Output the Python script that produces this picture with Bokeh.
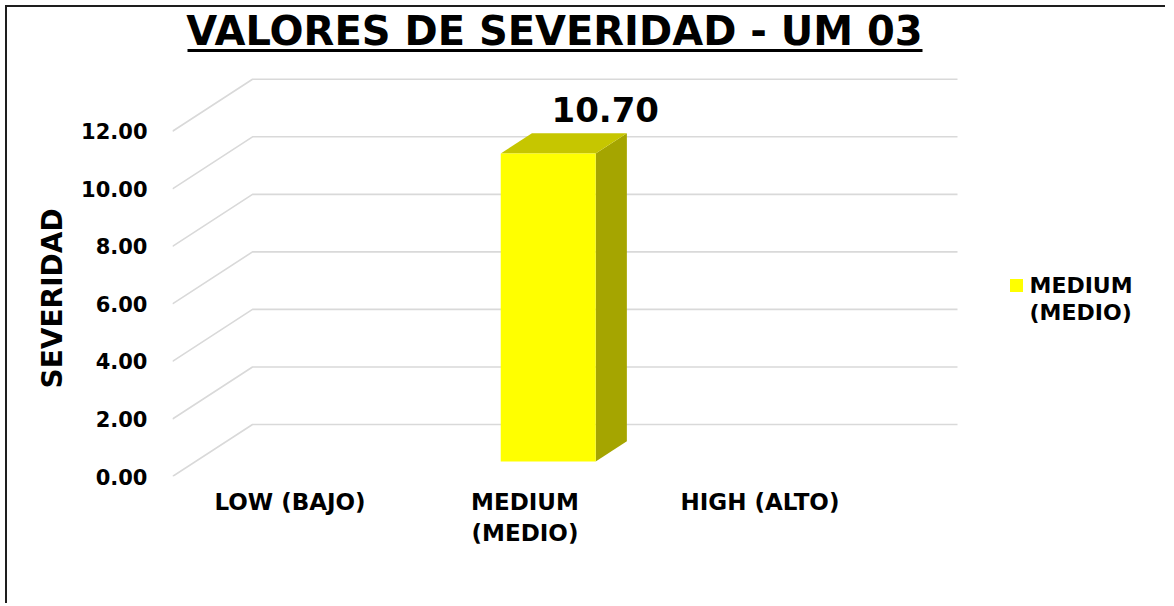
import math
from bokeh.plotting import figure
from bokeh.models import Range1d, FixedTicker, Title, CustomJSTickFormatter
from bokeh.core.properties import value
from bokeh.embed import file_html
from bokeh.resources import INLINE

# ---------------- data ----------------
categories = ["LOW (BAJO)", "MEDIUM (MEDIO)", "HIGH (ALTO)"]
category_labels = ["LOW (BAJO)", "MEDIUM\n(MEDIO)", "HIGH (ALTO)"]
severity = [0.0, 10.70, 0.0]
y_ticks = [0, 2, 4, 6, 8, 10, 12]
title_text = "VALORES DE SEVERIDAD - UM 03"
y_axis_title = "SEVERIDAD"
legend_lines = ["MEDIUM", "(MEDIO)"]

# ---------------- layout ----------------
FONT = "DejaVu Sans"
OX, OY = 7, 7            # page position of canvas origin (margin 5 + 2px border)
W, H = 1160, 598
FRAME_LEFT = 172 - OX
FRAME_H = 476 - OY
FRAME_W = W - FRAME_LEFT
PXX = 235.0      # px per category
PXY = 28.77      # px per unit of severity
DX = 80 / PXX    # 3D depth (x) in data units
DY = 52 / PXY    # 3D depth (y) in data units
BAR_W = 0.404
D0, D1 = 0.29, 0.68  # bar depth position (fractions of depth)

def rx(px):  # page px -> data x
    return (px - OX - FRAME_LEFT) / PXX

def ry(py):  # page px -> data y
    return (FRAME_H + OY - py) / PXY

p = figure(width=W, height=H, output_backend="svg", toolbar_location=None,
           x_range=Range1d(0, FRAME_W / PXX), y_range=Range1d(0, FRAME_H / PXY),
           min_border_left=FRAME_LEFT, min_border_right=0, min_border_top=0,
           min_border_bottom=H - FRAME_H,
           margin=(5, 0, 0, 5),
           styles={"border-left": "2px solid #1e1e1e", "border-top": "2px solid #1e1e1e"})
p.outline_line_color = None
p.grid.visible = False
p.background_fill_color = "white"
p.border_fill_color = "white"

# axes
ya = p.yaxis[0]
ya.ticker = FixedTicker(ticks=y_ticks)
ya.formatter = CustomJSTickFormatter(code="return tick.toFixed(2);")
ya.axis_line_color = None
ya.major_tick_line_color = None
ya.minor_tick_line_color = None
ya.major_label_standoff = 19
ya.major_label_text_font = FONT
ya.major_label_text_font_style = "bold"
ya.major_label_text_font_size = "21px"
ya.major_label_text_color = "black"

xa = p.xaxis[0]
xa.ticker = FixedTicker(ticks=[i + 0.5 for i in range(len(categories))])
xa.major_label_overrides = {i + 0.5: lab for i, lab in enumerate(category_labels)}
xa.axis_line_color = None
xa.major_tick_line_color = None
xa.minor_tick_line_color = None
xa.major_label_standoff = 6
xa.major_label_text_font = FONT
xa.major_label_text_font_style = "bold"
xa.major_label_text_font_size = "23px"
xa.major_label_text_color = "black"

# y axis title (left side title, shifted along the axis)
p.add_layout(Title(text=y_axis_title, align="left", offset=88, text_font=FONT,
                   text_font_style="bold", text_font_size="28px", text_color="black",
                   standoff=20), "left")

# 3D gridlines (floor diagonal + back wall)
n = len(categories)
gx = [[0, DX, n + DX] for v in y_ticks]
gy = [[v, v + DY, v + DY] for v in y_ticks]
p.multi_line(gx, gy, line_color="#d9d9d9", line_width=1.6)

# 3D bars
bx, by = (D1 - D0) * DX, (D1 - D0) * DY
front_x, front_y, top_x, top_y, side_x, side_y = [], [], [], [], [], []
for i, v in enumerate(severity):
    if v <= 0:
        continue
    x0 = i + (1 - BAR_W) / 2 + D0 * DX
    x1 = x0 + BAR_W
    y0 = D0 * DY
    y1 = y0 + v
    front_x.append([x0, x1, x1, x0]); front_y.append([y0, y0, y1, y1])
    top_x.append([x0, x1, x1 + bx, x0 + bx]); top_y.append([y1, y1, y1 + by, y1 + by])
    side_x.append([x1, x1 + bx, x1 + bx, x1]); side_y.append([y0, y0 + by, y1 + by, y1])
    p.text(x=[(x0 + x1) / 2 + bx + 0.11], y=[y1 + by + 0.83], text=["{:.2f}".format(v)],
           text_font=value(FONT), text_font_style="bold", text_font_size="34px",
           text_align="center", text_baseline="middle", text_color="black")
p.patches(side_x, side_y, fill_color="#a5a500", line_color=None)
p.patches(top_x, top_y, fill_color="#c6c600", line_color=None)
p.patches(front_x, front_y, fill_color="#ffff00", line_color=None)

# title with underline
p.text(x=[rx(554)], y=[ry(30)], text=[title_text], text_font=value(FONT),
       text_font_style="bold", text_font_size="40px", text_align="center",
       text_baseline="middle", text_color="black")
p.segment(x0=[rx(187)], y0=[ry(50)], x1=[rx(922)], y1=[ry(50)], line_color="black", line_width=3)

# legend
p.scatter(x=[rx(1016)], y=[ry(285)], marker="square", size=13, fill_color="#ffff00", line_color=None)
p.text(x=[rx(1029)] * len(legend_lines), y=[ry(285), ry(312)], text=legend_lines,
       text_font=value(FONT), text_font_style="bold", text_font_size="22px",
       text_align="left", text_baseline="middle", text_color="black")

open("out.html", "w").write(file_html(p, INLINE))
